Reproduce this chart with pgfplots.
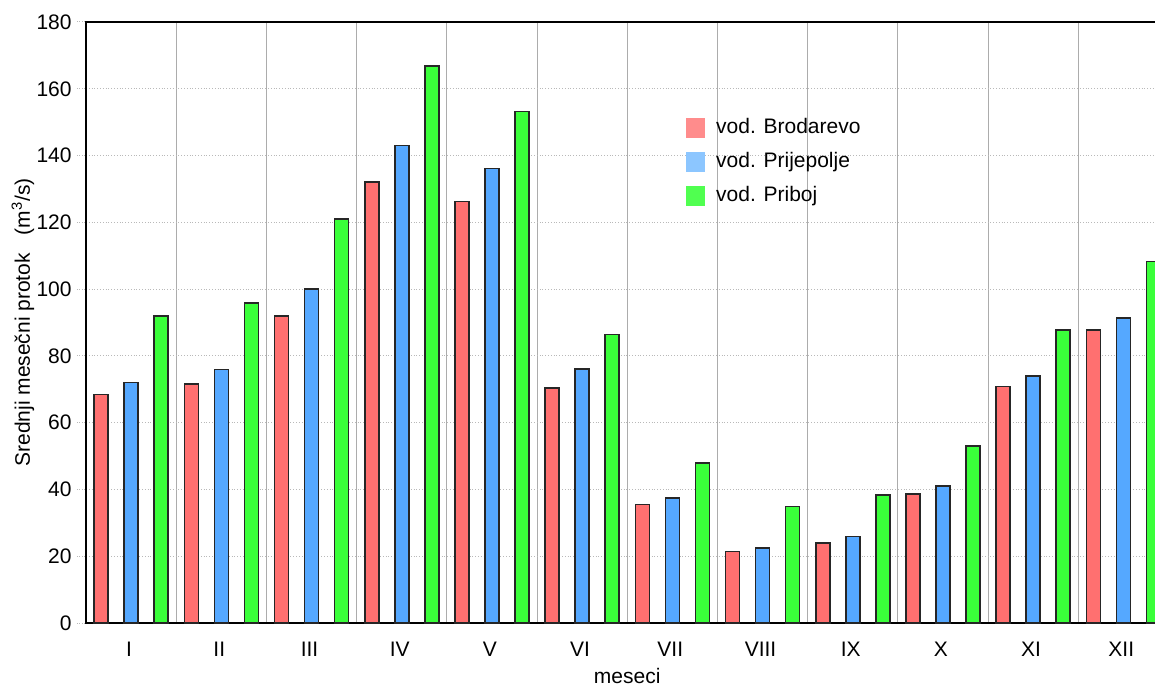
\documentclass[border=0pt]{standalone}
\usepackage{pgfplots}
\pgfplotsset{compat=1.18}
\usepackage{fontspec}
\setmainfont{Liberation Sans}
\definecolor{cR}{HTML}{FF7070}
\definecolor{cB}{HTML}{55A8FF}
\definecolor{cG}{HTML}{3AFF3A}
\definecolor{lR}{HTML}{FF8C8C}
\definecolor{lB}{HTML}{8CC6FF}
\definecolor{lG}{HTML}{50FF50}
\begin{document}
\fontsize{10.5}{12.6}\selectfont
\begin{tikzpicture}
\begin{axis}[
  scale only axis,
  width=541.2pt, height=300.5pt,
  xmin=-0.5, xmax=11.5,
  ymin=0, ymax=180,
  ytick={0,20,...,180},
  xtick={0,...,11},
  xticklabels={I,II,III,IV,V,VI,VII,VIII,IX,X,XI,XII},
  minor xtick={0.5,1.5,...,10.5},
  xminorgrids, ymajorgrids,
  minor grid style={solid, gray!65, line width=0.5pt},
  major grid style={densely dotted, gray!55, line width=0.5pt},
  tick align=outside,
  major tick length=4.5pt,
  minor tick length=0pt,
  xtick style={draw=none},
  ytick style={densely dotted, gray!55, line width=0.5pt},
  axis line style={line width=1pt, black},
  ybar=8pt, bar width=7pt,
  every axis plot/.append style={draw=black!85, line width=0.8pt},
  /pgf/number format/assume math mode=true,
  tick label style={font=\fontsize{10.5}{12.6}\selectfont},
  yticklabel style={xshift=1pt},
  xticklabel style={yshift=-1.5pt, xshift=-1pt},
  xlabel={meseci},
  ylabel={Srednji mesečni protok\ \ \ (m\textsuperscript{3}/s)},
  xlabel style={yshift=1.5pt},
  ylabel style={yshift=-6pt},
  legend style={draw=none, fill=none, at={(rel axis cs:0.548,0.853)}, anchor=north west, row sep=3.8pt, font=\fontsize{10.5}{12.6}\selectfont,
    /tikz/every odd column/.append style={column sep=3.5pt}},
  legend cell align=left,
  clip=true,
]
\addplot[fill=cR, legend image code/.code={\fill[lR] (0pt,-4.5pt) rectangle (9pt,4.5pt);}] coordinates {
(0,68.4) (1,71.6) (2,92) (3,132) (4,126.2) (5,70.3) (6,35.5) (7,21.4) (8,24) (9,38.7) (10,70.8) (11,87.8)};
\addplot[fill=cB, legend image code/.code={\fill[lB] (0pt,-4.5pt) rectangle (9pt,4.5pt);}] coordinates {
(0,72) (1,75.9) (2,100.1) (3,143) (4,136.1) (5,76.1) (6,37.5) (7,22.5) (8,25.9) (9,41.1) (10,73.9) (11,91.4)};
\addplot[fill=cG, legend image code/.code={\fill[lG] (0pt,-4.5pt) rectangle (9pt,4.5pt);}] coordinates {
(0,92) (1,95.8) (2,121) (3,166.8) (4,153.2) (5,86.4) (6,47.9) (7,34.9) (8,38.4) (9,53) (10,87.8) (11,108.3)};
\legend{vod. Brodarevo, vod. Prijepolje, vod. Priboj}
\coordinate (o) at (rel axis cs:0,0);
\end{axis}
\pgfresetboundingbox
\path ([shift={(-43pt,-31.5pt)}]o) rectangle ++(577.5pt,343pt);
\end{tikzpicture}
\end{document}
